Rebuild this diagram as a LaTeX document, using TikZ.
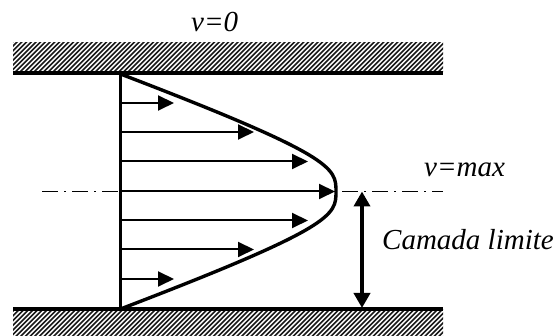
\documentclass[tikz,border=0pt]{standalone}
\usepackage{fontspec}
\setmainfont{Liberation Serif}
\usetikzlibrary{arrows.meta}
\tikzset{
  px/.style={x=1pt,y=-1pt},
  lbl/.style={inner sep=0pt,font=\fontsize{29}{33}\selectfont\itshape,anchor=base west},
  wall/.style={line width=4pt},
  hatchline/.style={line width=1.6pt,black!90},
  prof/.style={line width=3.4pt,line cap=round},
  vel/.style={line width=2pt,-{Triangle[length=16pt,width=15pt]}},
  axisl/.style={line width=1.2pt,dash pattern=on 16pt off 6pt on 2pt off 6pt},
  dim/.style={line width=4.4pt,{Triangle[length=15pt,width=16pt]}-{Triangle[length=15pt,width=16pt]}}
}
\begin{document}
\begin{tikzpicture}[px]
\useasboundingbox (0,0) rectangle (555,336);
\begin{scope}
\clip (13,43) rectangle (443,72);
\foreach \i in {0,...,100} {\draw[hatchline] ({-30+4.7*\i},75) -- ({5+4.7*\i},40);}
\end{scope}
\begin{scope}
\clip (13,310) rectangle (443,336);
\foreach \i in {0,...,100} {\draw[hatchline] ({-30+4.7*\i},340) -- ({5+4.7*\i},305);}
\end{scope}
\coordinate (wt1) at (13,73.5); \coordinate (wt2) at (443,73.5);
\coordinate (wb1) at (13,309.5); \coordinate (wb2) at (443,309.5);
\draw[wall] (wt1) -- (wt2);
\draw[wall] (wb1) -- (wb2);
\coordinate (top) at (120.5,74); \coordinate (bot) at (120.5,309);
\coordinate (apex) at (336,191.5);
\draw[prof] (top) -- (bot);
\draw[prof] (top) .. controls (335,156) and (336,168) .. (apex) .. controls (336,215) and (335,227) .. (bot);
\coordinate (al) at (42,191.5); \coordinate (ar) at (443,191.5);
\draw[axisl] (al) -- (ar);
\foreach \n/\y/\t in {a/103/174,b/132/254,c/161.5/308,d/191.5/335,e/220.5/308,f/249.5/254,g/279/174}{
  \coordinate (s\n) at (120.5,\y); \coordinate (t\n) at (\t,\y);
  \draw[vel] (s\n) -- (t\n);
}
\coordinate (du) at (362,191.5); \coordinate (dd) at (362,308);
\draw[dim] (du) -- (dd);
\node[lbl] (v0) at (191,32) {v=0};
\node[lbl] (vm) at (424,177) {v=max};
\node[lbl] (cl) at (382,250) {Camada limite};
\end{tikzpicture}
\end{document}
